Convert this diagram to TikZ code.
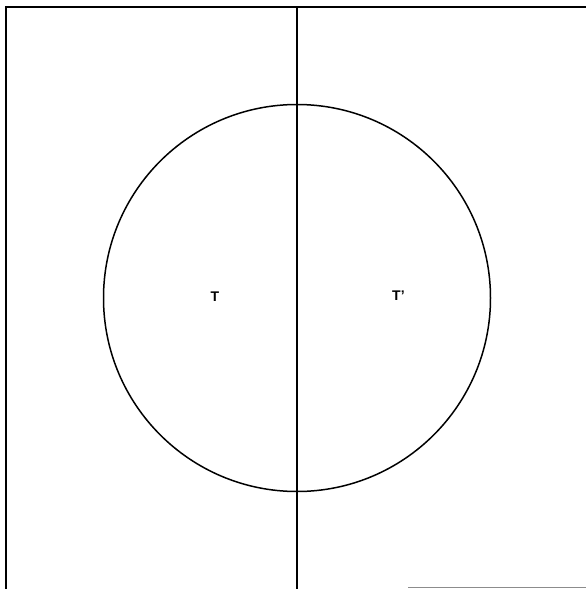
\documentclass[tikz,border=0pt]{standalone}
\usepackage{fontspec}
\setmainfont{Liberation Sans}
\begin{document}
\begin{tikzpicture}[x=1pt,y=-1pt,
  stroke/.style={line width=1.5pt,black},
  lbl/.style={font=\fontsize{14}{16}\selectfont\bfseries,inner sep=0pt}]
\useasboundingbox (0,0) rectangle (586,589);
\coordinate (tl) at (6,7);
\coordinate (tr) at (586,7);
\coordinate (bl) at (6,589);
\coordinate (vt) at (297,7);
\coordinate (vb) at (297,589);
\coordinate (c) at (297,298);
\draw[stroke] (bl) -- (tl) -- (tr);
\draw[stroke] (vt) -- (vb);
\draw[stroke] (c) circle[radius=193.5];
\coordinate (gl) at (408,587);
\coordinate (gr) at (586,587);
\draw[line width=1pt,black!45] (gl) -- (gr);
\node[lbl] (t) at (215,297) {T};
\node[lbl,anchor=west] (tp) at (392,296) {T'};
\end{tikzpicture}
\end{document}
